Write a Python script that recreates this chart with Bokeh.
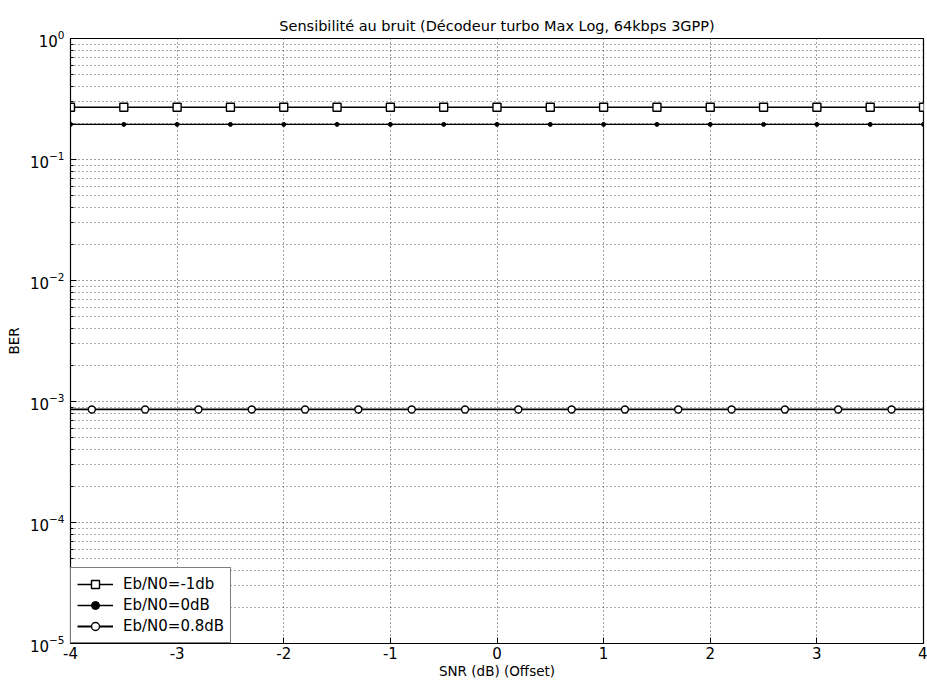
from bokeh.plotting import figure
from bokeh.models import Range1d, FixedTicker, Legend, LegendItem
from bokeh.embed import file_html
from bokeh.resources import INLINE

# SNR offsets (dB) and measured BER for each Eb/N0 setting
snr_a = [-4, -3.5, -3, -2.5, -2, -1.5, -1, -0.5, 0, 0.5, 1, 1.5, 2, 2.5, 3, 3.5, 4]
ber_m1db = [0.27, 0.27, 0.27, 0.27, 0.27, 0.27, 0.27, 0.27, 0.27,
            0.27, 0.27, 0.27, 0.27, 0.27, 0.27, 0.27, 0.27]
ber_0db = [0.195, 0.195, 0.195, 0.195, 0.195, 0.195, 0.195, 0.195, 0.195,
           0.195, 0.195, 0.195, 0.195, 0.195, 0.195, 0.195, 0.195]

snr_b = [-4, -3.8, -3.3, -2.8, -2.3, -1.8, -1.3, -0.8, -0.3, 0.2, 0.7,
         1.2, 1.7, 2.2, 2.7, 3.2, 3.7, 4]
ber_08db = [8.6e-4, 8.6e-4, 8.6e-4, 8.6e-4, 8.6e-4, 8.6e-4, 8.6e-4, 8.6e-4, 8.6e-4,
            8.6e-4, 8.6e-4, 8.6e-4, 8.6e-4, 8.6e-4, 8.6e-4, 8.6e-4, 8.6e-4, 8.6e-4]

x_ticks = [-4, -3, -2, -1, 0, 1, 2, 3, 4]
decades = [1e-5, 1e-4, 1e-3, 1e-2, 1e-1, 1e0]
minor_y = [m * d for d in decades[:-1] for m in range(2, 10)]

FONT = "DejaVu Sans"

p = figure(width=927, height=687, output_backend="svg", toolbar_location=None,
           y_axis_type="log",
           x_range=Range1d(-4, 4), y_range=Range1d(1e-5, 1),
           min_border_left=70, min_border_right=4,
           min_border_top=38, min_border_bottom=44,
           title="Sensibilité au bruit (Décodeur turbo Max Log, 64kbps 3GPP)")

p.title.text_font = FONT
p.title.text_font_size = "14.5px"
p.title.text_font_style = "normal"
p.title.text_color = "black"
p.title.align = "center"
p.title.offset = 0

p.outline_line_color = "black"
p.outline_line_width = 1.2
p.background_fill_color = "white"
p.border_fill_color = "white"

p.xaxis.ticker = FixedTicker(ticks=x_ticks)
p.xaxis.major_label_overrides = {t: str(t) for t in x_ticks}
p.yaxis.ticker = FixedTicker(ticks=decades, minor_ticks=minor_y)

for ax in (p.xaxis, p.yaxis):
    ax.axis_line_color = "black"
    ax.major_tick_in = 6
    ax.major_tick_out = 0
    ax.minor_tick_in = 3
    ax.minor_tick_out = 0
    ax.major_label_text_font = FONT
    ax.major_label_text_font_size = "15px"
    ax.major_label_text_color = "black"
    ax.axis_label_text_font = FONT
    ax.axis_label_text_font_size = "13.5px"
    ax.axis_label_text_font_style = "normal"
    ax.axis_label_text_color = "black"

p.xaxis.axis_label = "SNR (dB) (Offset)"
p.yaxis.axis_label = "BER"
p.xaxis.major_label_standoff = 3
p.xaxis.axis_label_standoff = 1
p.yaxis.major_label_standoff = 6

p.xgrid.grid_line_color = "black"
p.xgrid.grid_line_dash = "1 3"
p.xgrid.grid_line_alpha = 0.75
p.ygrid.grid_line_color = "black"
p.ygrid.grid_line_dash = "1 3"
p.ygrid.grid_line_alpha = 0.75
p.ygrid.minor_grid_line_color = "black"
p.ygrid.minor_grid_line_dash = "1 3"
p.ygrid.minor_grid_line_alpha = 0.65

l1 = p.line(snr_a, ber_m1db, line_color="black", line_width=1.6)
m1 = p.scatter(snr_a, ber_m1db, marker="square", size=8, line_color="black",
               fill_color="white", line_width=1.4)

l2 = p.line(snr_a, ber_0db, line_color="black", line_width=1.4)
m2 = p.scatter(snr_a, ber_0db, marker="circle", size=4, line_color="black",
               fill_color="black")

l3 = p.line(snr_b, ber_08db, line_color="black", line_width=1.8)
m3 = p.scatter(snr_b[1:-1], ber_08db[1:-1], marker="circle", size=7,
               line_color="black", fill_color="white", line_width=1.4)

legend = Legend(items=[
    LegendItem(label="Eb/N0=-1db", renderers=[l1, m1]),
    LegendItem(label="Eb/N0=0dB", renderers=[l2, m2]),
    LegendItem(label="Eb/N0=0.8dB", renderers=[l3, m3]),
], location="bottom_left")
legend.margin = 0
legend.padding = 6
legend.spacing = 1
legend.glyph_width = 36
legend.glyph_height = 20
legend.label_height = 20
legend.label_standoff = 10
legend.label_text_font = FONT
legend.label_text_font_size = "15px"
legend.label_text_color = "black"
legend.border_line_color = "black"
legend.border_line_width = 1.2
legend.background_fill_color = "white"
legend.background_fill_alpha = 1
p.add_layout(legend)

open("out.html", "w").write(file_html(p, INLINE))
